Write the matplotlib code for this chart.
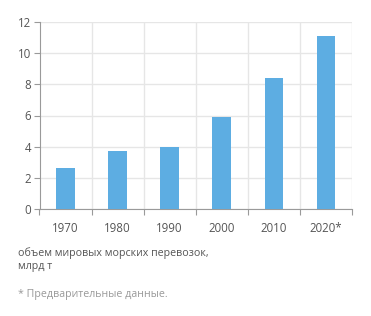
import numpy as np
import matplotlib.pyplot as plt
from matplotlib.ticker import FixedLocator

plt.rcParams["font.family"] = ["Open Sans", "DejaVu Sans"]

# Data ###########################################################################
years = ["1970", "1980", "1990", "2000", "2010", "2020*"]
volume = [2.6, 3.7, 4.0, 5.9, 8.4, 11.1]   # mlrd t
yticks = [0, 2, 4, 6, 8, 10, 12]

barcolor = "#5dade2"
gridcolor = "#e6e6e6"
axcolor = "#9a9a9a"
txtcolor = "#555555"

# Plot ###########################################################################
fig = plt.figure(figsize=(3.71, 3.16), dpi=100)
ax = fig.add_axes([39.5/371, 1-209/316, (352-39.5)/371, (209-22)/316])

x = np.arange(len(years))
ax.bar(x, volume, width=0.36, color=barcolor, zorder=3)

ax.set_xlim(-0.5, len(years)-0.5)
ax.set_ylim(0, 12)
ax.set_yticks(yticks)
ax.set_xticks(x)
ax.set_xticklabels(years)
ax.xaxis.set_minor_locator(FixedLocator(np.arange(-0.5, len(years), 1.0)))

ax.grid(axis="y", color=gridcolor, lw=1, zorder=0)
ax.grid(axis="x", which="minor", color=gridcolor, lw=1, zorder=0)
ax.tick_params(axis="x", which="major", length=0, pad=9, labelsize=8.3, labelcolor=txtcolor)
ax.tick_params(axis="x", which="minor", length=4, color=axcolor, width=0.8)
ax.tick_params(axis="y", length=4, color=axcolor, width=0.8, pad=2, labelsize=8.3, labelcolor=txtcolor)

for s in ["top", "right"]:
    ax.spines[s].set_visible(False)
for s in ["left", "bottom"]:
    ax.spines[s].set_color(axcolor)
    ax.spines[s].set_linewidth(0.8)

fig.text(18/371, 1-253/316, "объем мировых морских перевозок,", fontsize=7.7, color=txtcolor, va="center")
fig.text(18/371, 1-267/316, "млрд т", fontsize=7.7, color=txtcolor, va="center")
fig.text(18/371, 1-294/316, "* Предварительные данные.", fontsize=7.7, color="#999999", va="center")

fig.savefig("out.png", dpi=100)
